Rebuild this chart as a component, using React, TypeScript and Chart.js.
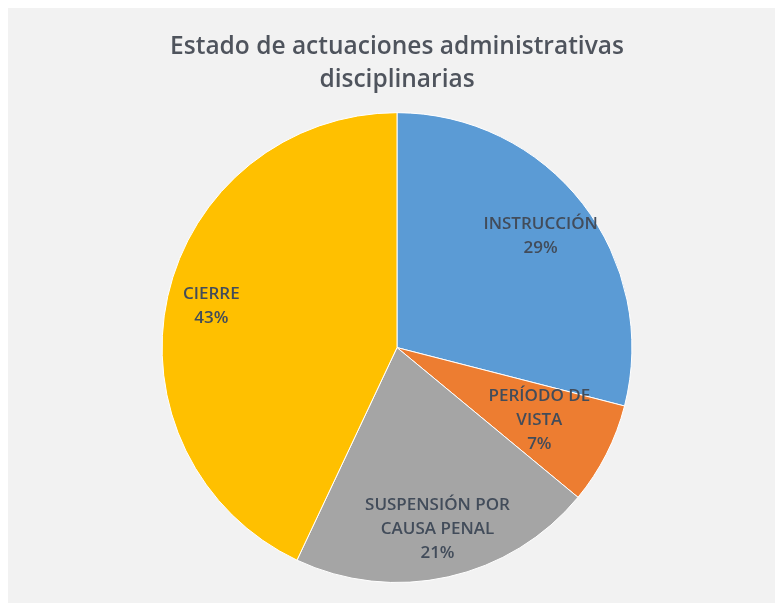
import { useEffect, useRef } from "react";
import { Chart, registerables } from "chart.js";

Chart.register(...registerables);

const titleLines = ["Estado de actuaciones administrativas", "disciplinarias"];
const categories = ["INSTRUCCIÓN", "PERÍODO DE VISTA", "SUSPENSIÓN POR CAUSA PENAL", "CIERRE"];
const labelLines = [["INSTRUCCIÓN"], ["PERÍODO DE", "VISTA"], ["SUSPENSIÓN POR", "CAUSA PENAL"], ["CIERRE"]];
const values = [29, 7, 21, 43];
const colors = ["#5B9BD5", "#ED7D31", "#A5A5A5", "#FFC000"];

const FONT = "'Open Sans', 'Noto Sans', sans-serif";

const sliceLabels = {
  id: "sliceLabels",
  afterDatasetsDraw(chart: any, _args: any, opts: any) {
    const ctx = chart.ctx;
    const meta = chart.getDatasetMeta(0);
    const total = values.reduce((a, b) => a + b, 0);
    ctx.save();
    ctx.fillStyle = opts.color;
    ctx.font = opts.font;
    ctx.textAlign = "center";
    ctx.textBaseline = "middle";
    meta.data.forEach((arc: any, i: number) => {
      const p = arc.getProps(["x", "y", "startAngle", "endAngle", "outerRadius"], true);
      const mid = (p.startAngle + p.endAngle) / 2;
      const r = p.outerRadius * opts.radius[i];
      const cx = p.x + Math.cos(mid) * r;
      const cy = p.y + Math.sin(mid) * r;
      const pct = Math.round((values[i] / total) * 100) + "%";
      const lines = [...labelLines[i], pct];
      lines.forEach((t: string, j: number) => {
        ctx.fillText(t, cx, cy + (j - (lines.length - 1) / 2) * opts.lineHeight);
      });
    });
    ctx.restore();
  },
};

export default function App() {
  const ref = useRef<HTMLCanvasElement | null>(null);
  useEffect(() => {
    if (!ref.current) return;
    const chart = new Chart(ref.current, {
      type: "pie",
      data: {
        labels: categories,
        datasets: [
          {
            data: values,
            backgroundColor: colors,
            borderColor: "#ffffff",
            borderWidth: 1,
          },
        ],
      },
      options: {
        responsive: false,
        animation: false,
        layout: { padding: { top: 0, bottom: 20, left: 7, right: 0 } },
        plugins: {
          legend: { display: false },
          tooltip: { enabled: false },
          title: {
            display: true,
            text: titleLines,
            color: "#4f545d",
            font: { family: FONT, size: 24.5, weight: 600, lineHeight: 1.35 },
            padding: { top: 22, bottom: 16 },
          },
          sliceLabels: {
            radius: [0.774, 0.68, 0.79, 0.81],
            font: `600 17px ${FONT}`,
            color: "#424c5a",
            lineHeight: 24,
          },
        } as any,
      },
      plugins: [sliceLabels],
    });
    return () => chart.destroy();
  }, []);
  return (
    <div style={{ width: 771, height: 595, background: "#f2f2f2" }}>
      <canvas ref={ref} width={771} height={595} style={{ display: "block" }} />
    </div>
  );
}
